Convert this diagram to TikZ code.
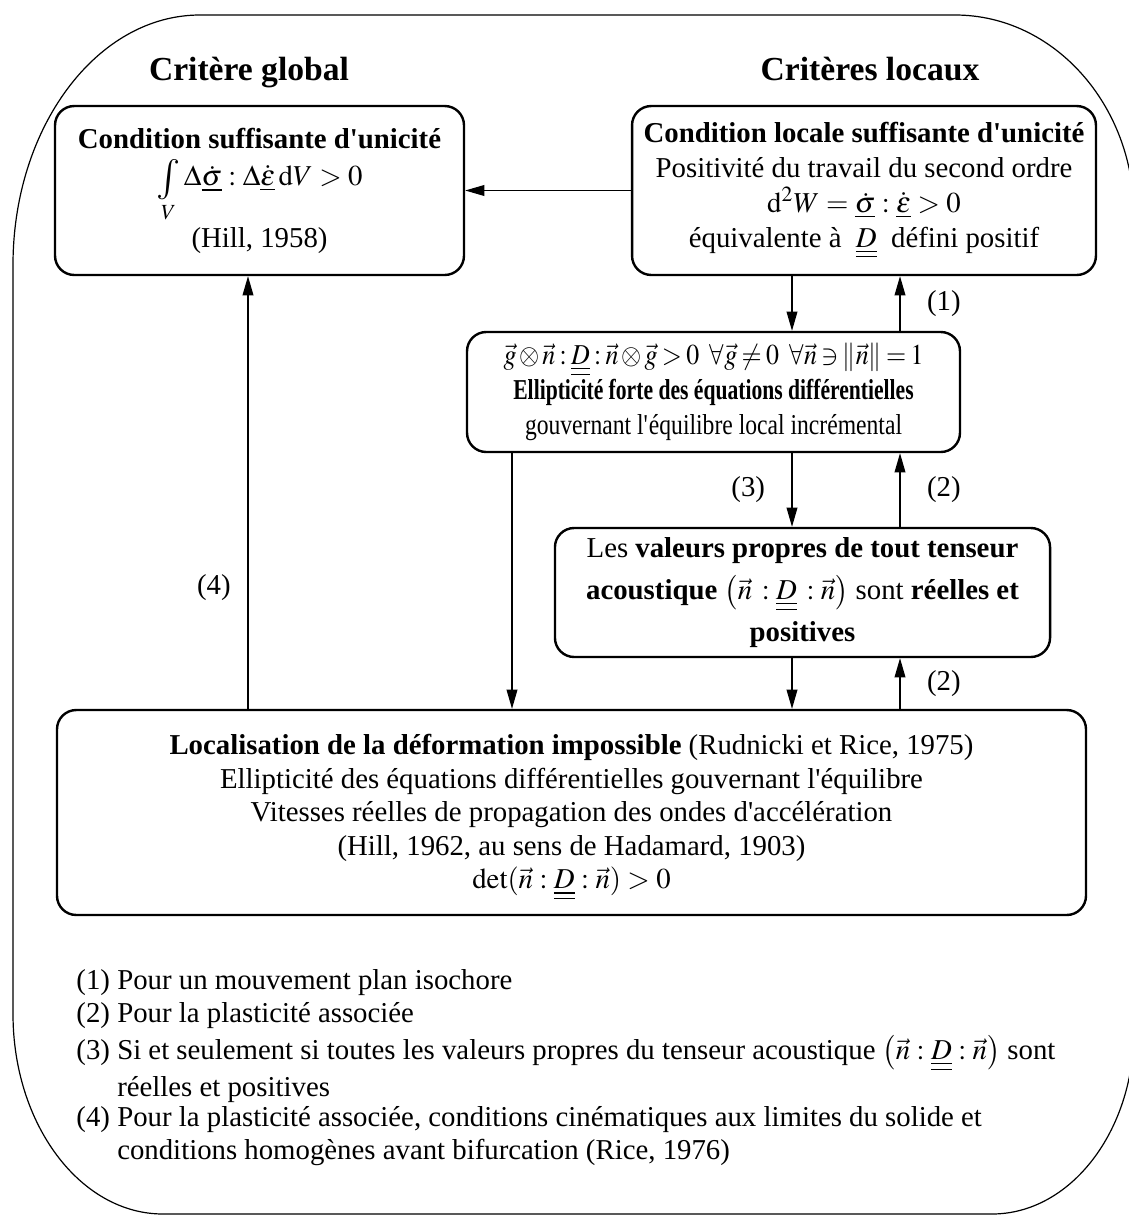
\documentclass[12pt,tikz,border=0pt]{standalone}
\usepackage{graphicx}
\usepackage{mathptmx}
\usepackage{fontspec}
\setmainfont{Liberation Serif}
\newfontfamily\narrowfont{Liberation Serif}[FakeStretch=0.82, BoldFeatures={FakeStretch=0.75}]
\usetikzlibrary{arrows.meta,positioning,calc}

\newcommand{\tD}{\underline{\underline{D}}}
\newcommand{\ap}{\textquotesingle}

\begin{document}
\begin{tikzpicture}[x=0.41667pt, y=-0.41667pt, every node/.style={font=\normalsize},
			box/.style={draw, line width=1pt, rounded corners=8pt, align=center, inner sep=0pt},
			arr/.style={-{Stealth[length=8pt, width=4.5pt, inset=0pt]}, line width=0.5pt},
			head/.style={font=\fontsize{14}{17}\selectfont\bfseries, anchor=base}]
			\useasboundingbox (0,0) rectangle (1128,1216);
			\draw[line width=0.5pt] (13,265) .. controls (13,127) and (97,15) .. (200,15) -- (955,15)
				.. controls (1054,15) and (1134,105) .. (1134,215) -- (1134,1030)
				.. controls (1134,1132) and (1070,1214) .. (992,1214) -- (163,1214)
				.. controls (80,1214) and (13,1124) .. (13,1014) -- cycle;
			\node[head] (hglob) at (249,80) {Critère global};
			\node[head] (hloc) at (870,80) {Critères locaux};
			\node[box, minimum width=170.4pt, minimum height=70.4pt] (glob) at (259.5,190.5)
				{\textbf{Condition suffisante d\ap unicité}\\[1pt]
				$\mathop{\raisebox{-2pt}{\scalebox{1.4}{$\int$}}}\limits_V\Delta\underline{\dot\sigma}:\Delta\underline{\dot\varepsilon}\,\mathrm{d}V>0$\\[1pt] (Hill, 1958)};
			\node[box, minimum width=193.3pt, minimum height=70.4pt] (locB) at (864,190.5)
				{\textbf{Condition locale suffisante d\ap unicité}\\ Positivité du travail du second ordre\\
				$\mathrm{d}^2W=\underline{\dot\sigma}:\underline{\dot\varepsilon}>0$\\ équivalente à \ $\tD$ \ défini positif};
			\node[box, minimum width=205.4pt, minimum height=50pt, font=\normalsize\narrowfont] (ell) at (713.5,392)
				{\scalebox{0.9}[1]{$\medmuskip=2mu \thickmuskip=3mu \vec g\otimes\vec n:\tD:\vec n\otimes\vec g>0\ \ \forall\vec g\neq0\ \ \forall\vec n\ni\left\|\vec n\right\|=1$}\\
				\textbf{Ellipticité forte des équations différentielles}\\ gouvernant l\ap équilibre local incrémental};
			\node[box, minimum width=206.3pt, minimum height=53.75pt] (vp) at (802.5,592.5)
				{Les \textbf{valeurs propres de tout tenseur}\\[3pt] \textbf{acoustique} $\left(\vec n\,:\tD\,:\vec n\right)$ sont \textbf{réelles et}\\[3pt] \textbf{positives}};
			\node[box, minimum width=428.75pt, minimum height=85.4pt] (loc) at (571.5,812.5)
				{\rule{0pt}{12.5pt}\textbf{Localisation de la déformation impossible} (Rudnicki et Rice, 1975)\\[-0.5pt]
				Ellipticité des équations différentielles gouvernant l\ap équilibre\\[-0.5pt]
				Vitesses réelles de propagation des ondes d\ap accélération\\[-0.5pt]
				(Hill, 1962, au sens de Hadamard, 1903)\\[-0.5pt] $\det(\vec n:\tD:\vec n)>0$};
			\node[anchor=north west, align=left, inner sep=0pt] (leg) at (76,965)
				{\begin{tabular}{@{}l@{ }l@{}}
				(1) & Pour un mouvement plan isochore\\[-1pt]
				(2) & Pour la plasticité associée\\[1pt]
				(3) & Si et seulement si toutes les valeurs propres du tenseur acoustique $\left(\vec n:\tD:\vec n\right)$ sont\\[0.8pt]
				 & réelles et positives\\[-2pt]
				(4) & Pour la plasticité associée, conditions cinématiques aux limites du solide et\\[-0.8pt]
				 & conditions homogènes avant bifurcation (Rice, 1976)
				\end{tabular}};
			\coordinate (xg) at (248,0);
			\coordinate (xc) at (512,0);
			\coordinate (xl) at (792,0);
			\coordinate (xr) at (900,0);
			\draw[arr] (locB.west) -- (glob.east);
			\draw[arr] (locB.south -| xl) -- (ell.north -| xl);
			\draw[arr] (ell.north -| xr) -- node[right=7pt] {(1)} (locB.south -| xr);
			\draw[arr] (ell.south -| xl) -- node[left=7pt] {(3)} (vp.north -| xl);
			\draw[arr] (vp.north -| xr) -- node[right=7pt] {(2)} (ell.south -| xr);
			\draw[arr] (vp.south -| xl) -- (loc.north -| xl);
			\draw[arr] (loc.north -| xr) -- node[right=7pt] {(2)} (vp.south -| xr);
			\draw[arr] (ell.south -| xc) -- (loc.north -| xc);
			\draw[arr, {Stealth[length=8pt, width=4.5pt, inset=0pt]}-] (glob.south -| xg) -- node[pos=0.72, left=3pt] {(4)} (loc.north -| xg);
		\end{tikzpicture}
\end{document}
